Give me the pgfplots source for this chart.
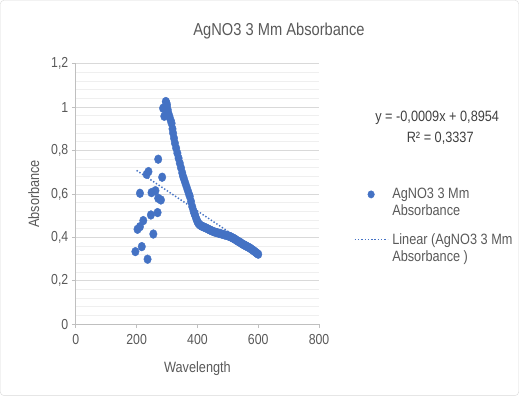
\documentclass[border=0pt]{standalone}
\usepackage{pgfplots}
\pgfplotsset{compat=1.18}
\usepackage{fontspec}
\setmainfont{Liberation Sans}[FakeStretch=0.85]
\definecolor{ser}{HTML}{4472C4}
\definecolor{txt}{HTML}{595959}
\definecolor{eqc}{HTML}{404040}
\definecolor{grd}{HTML}{D9D9D9}
\definecolor{mgrd}{HTML}{EFEFEF}
\definecolor{axl}{HTML}{BFBFBF}
\pgfplotstableread{
x y
196 0.334
203 0.437
211 0.449
211 0.603
217 0.357
222 0.477
233 0.690
236 0.299
239 0.703
247 0.503
249 0.606
255 0.415
262 0.615
269 0.514
271 0.580
271 0.760
280 0.572
284 0.677
287 0.995
291 0.958
296 1.026
298 1.020
300 1.010
302 0.990
304 0.975
308 0.958
312 0.940
315 0.926
318 0.900
320 0.880
323 0.857
326 0.834
330 0.811
334 0.788
338 0.765
342 0.742
346 0.720
350 0.697
353 0.680
356 0.668
360 0.651
364 0.634
368 0.617
372 0.600
375 0.588
379 0.565
383 0.541
387 0.522
390 0.510
392 0.503
395 0.490
398 0.480
400 0.472
403 0.465
406 0.460
410 0.455
415 0.451
420 0.448
425 0.445
430 0.442
435 0.438
441 0.434
445 0.431
450 0.428
455 0.425
460 0.423
465 0.421
470 0.419
475 0.417
480 0.415
485 0.413
490 0.411
495 0.409
500 0.407
504 0.405
508 0.403
512 0.400
516 0.397
520 0.394
524 0.391
528 0.387
532 0.383
536 0.380
540 0.377
544 0.373
548 0.369
552 0.366
556 0.363
560 0.360
564 0.357
568 0.354
572 0.351
576 0.347
580 0.343
584 0.339
588 0.335
592 0.330
596 0.326
600 0.322
}\absdata
\begin{document}
\begin{tikzpicture}[x=1bp,y=1bp]
\draw[color=grd, rounded corners=4bp] (0.5,0.5) rectangle (518.5,395.5);
\node[text=txt, font=\fontsize{17.3}{20}\selectfont] at (279,365) {AgNO3 3 Mm Absorbance};
\node[text=eqc, font=\fontsize{15}{17}\selectfont] at (437,278) {y = -0,0009x + 0,8954};
\node[text=eqc, font=\fontsize{15}{17}\selectfont] at (440,258) {R² = 0,3337};
\begin{axis}[
  at={(76bp,72bp)}, anchor=south west,
  scale only axis, width=243bp, height=260bp,
  xmin=0, xmax=800, ymin=0, ymax=1.2,
  xtick={0,200,400,600,800},
  ytick={0,0.2,0.4,0.6,0.8,1,1.2},
  minor y tick num=4,
  ymajorgrids, yminorgrids,
  major grid style={grd, line width=0.8bp},
  minor grid style={mgrd, line width=0.8bp},
  axis x line*=bottom, axis y line*=left,
  axis line style={axl, line width=0.8bp, -},
  tick align=outside,
  major tick length=4bp, minor tick length=0pt,
  tick style={axl, line width=0.8bp},
  tick label style={text=txt, font=\fontsize{14.5}{16}\selectfont},
  xticklabel style={yshift=-3bp},
  /pgf/number format/.cd, use comma, fixed, precision=1, assume math mode=true,
  /pgfplots/.cd,
  xlabel={Wavelength}, ylabel={Absorbance},
  label style={text=txt, font=\fontsize{15}{17}\selectfont},
  xlabel style={at={(axis description cs:0.5,-0.173)}, anchor=center},
  ylabel style={at={(axis description cs:-0.173,0.5)}, anchor=center},
  clip=false,
  legend style={at={(axis description cs:1.13,0.537)}, anchor=north west, draw=none, fill=none,
    font=\fontsize{15}{17}\selectfont, text=txt, cells={align=left},
    row sep=12bp, column sep=2bp},
  legend cell align=left,
]
\addplot[ser, line width=1.4bp, dash pattern=on 1.4bp off 1.9bp, forget plot] coordinates {(200,0.7084) (600,0.3344)};
\addplot[only marks, mark=*, mark size=4.4bp, color=ser, mark options={draw=ser, fill=ser, xscale=0.85},
  legend image code/.code={\fill[ser] (16.5bp,8.5bp) ellipse [x radius=3.3bp, y radius=3.7bp];}]
  table[x=x,y=y] {\absdata};
\addlegendentry{AgNO3 3 Mm\\Absorbance}
\addlegendimage{legend image code/.code={\draw[ser, line width=1.4bp, dash pattern=on 1.4bp off 1.9bp] (0bp,8.5bp) -- (33bp,8.5bp);}}
\addlegendentry{Linear (AgNO3 3 Mm\\Absorbance )}
\end{axis}
\end{tikzpicture}
\end{document}
